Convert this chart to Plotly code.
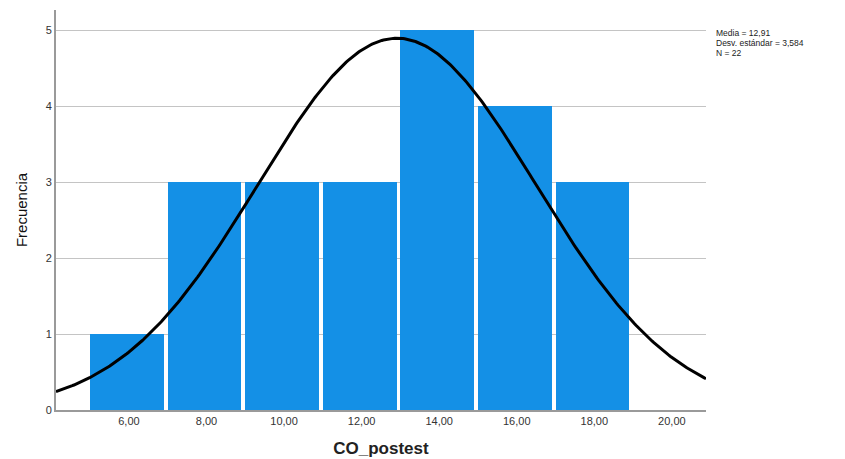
import numpy as np
import plotly.graph_objects as go

bin_centers = [6, 8, 10, 12, 14, 16, 18]
counts = [1, 3, 3, 3, 5, 4, 3]
bin_width = 2
tick_vals = [6, 8, 10, 12, 14, 16, 18, 20]
tick_text = ["6,00", "8,00", "10,00", "12,00", "14,00", "16,00", "18,00", "20,00"]
mean_val = 12.91
sd_val = 3.584
n_val = 22
stats_lines = ["Media = 12,91", "Desv. estándar = 3,584", "N = 22"]
x_range = [4.12, 20.88]
y_range = [0, 5.27]

xs = np.linspace(x_range[0], x_range[1], 400)
ys = n_val * bin_width / (sd_val * np.sqrt(2 * np.pi)) * np.exp(-0.5 * ((xs - mean_val) / sd_val) ** 2)

fig = go.Figure()
fig.add_trace(go.Bar(
    x=bin_centers, y=counts, width=bin_width * 0.95, offset=-bin_width / 2,
    marker=dict(color="#1490E6", line=dict(width=0)),
    hoverinfo="skip",
))
fig.add_trace(go.Scatter(x=xs, y=ys, mode="lines", line=dict(color="black", width=3), hoverinfo="skip"))

annots = []
for i, t in enumerate(stats_lines):
    annots.append(dict(
        xref="paper", yref="paper", x=1.012, y=0.9425 - i * 0.025,
        xanchor="left", yanchor="middle", text=t,
        showarrow=False, align="left", font=dict(size=8.5, color="#222"),
    ))

fig.update_layout(
    width=845, height=459,
    margin=dict(l=48, r=147, t=2, b=57),
    plot_bgcolor="white", paper_bgcolor="white",
    showlegend=False, bargap=0,
    font=dict(family="Liberation Sans, Arial, sans-serif", color="#222"),
    xaxis=dict(
        range=x_range, tickvals=tick_vals, ticktext=tick_text,
        showgrid=False, zeroline=False, showline=True, linecolor="#9a9a9a", linewidth=1.5,
        ticks="", tickfont=dict(size=11, color="#333"),
        title=dict(text="<b>CO_postest</b>", font=dict(size=17, color="#222"), standoff=16),
    ),
    yaxis=dict(
        range=y_range, tickvals=[0, 1, 2, 3, 4, 5], ticktext=["0", "1", "2", "3", "4", "5"],
        showgrid=True, gridcolor="#c4c4c4", gridwidth=1, zeroline=False,
        showline=True, linecolor="#9a9a9a", linewidth=2,
        ticks="", tickfont=dict(size=11, color="#333"),
        title=dict(text="Frecuencia", font=dict(size=15, color="#111",
                   family="Liberation Sans Narrow, Liberation Sans, Arial"), standoff=14),
    ),
    annotations=annots,
)

fig.write_html("out.html")
